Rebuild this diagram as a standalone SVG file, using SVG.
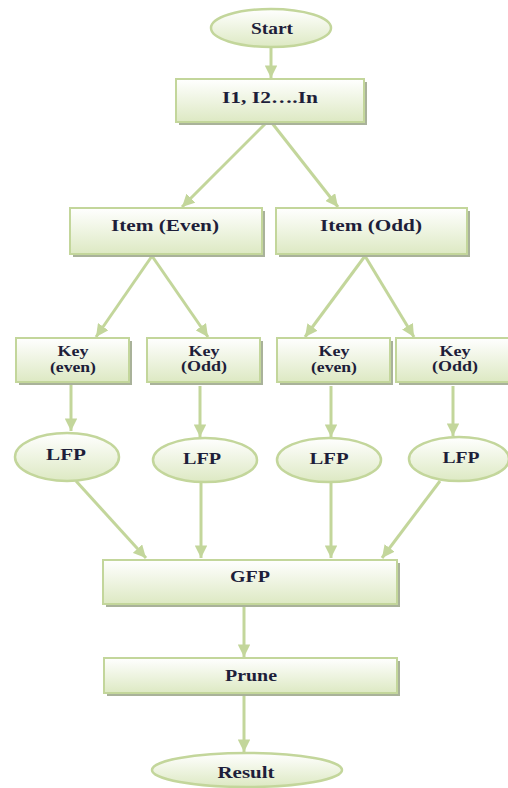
<svg xmlns="http://www.w3.org/2000/svg" width="508" height="788" viewBox="0 0 508 788">
<defs>
<linearGradient id="g" x1="0" y1="0" x2="0" y2="1">
<stop offset="0" stop-color="#ffffff"/>
<stop offset="1" stop-color="#dde9c3"/>
</linearGradient>
<marker id="ah" viewBox="0 0 10 10" refX="10" refY="5" markerWidth="4.2" markerHeight="4.2" orient="auto" markerUnits="strokeWidth">
<path d="M0,0 L10,5 L0,10 z" fill="#c3d69b"/>
</marker>
<style>
.box{fill:url(#g);stroke:#c3d69b;stroke-width:2}
.sh{fill:#a9b29a}
.el{fill:url(#g);stroke:#c3d69b;stroke-width:2.5}
.t{font-family:"Liberation Serif","Times New Roman",serif;font-weight:bold;font-size:16px;fill:#1e1e3a;text-anchor:middle;dominant-baseline:central}
.s{font-size:14px}
.c{stroke:#c3d69b;stroke-width:3;fill:none;marker-end:url(#ah)}
</style>
</defs>
<rect width="508" height="788" fill="#ffffff"/>
<g id="connectors">
<line class="c" x1="271" y1="48" x2="271" y2="78"/>
<line class="c" x1="266" y1="123" x2="182" y2="207"/>
<line class="c" x1="272" y1="123" x2="338" y2="207"/>
<line class="c" x1="152" y1="256" x2="96" y2="337"/>
<line class="c" x1="152" y1="256" x2="208" y2="337"/>
<line class="c" x1="365" y1="256" x2="305" y2="337"/>
<line class="c" x1="365" y1="256" x2="414" y2="337"/>
<line class="c" x1="71" y1="384" x2="71" y2="431"/>
<line class="c" x1="200" y1="386" x2="200" y2="437"/>
<line class="c" x1="331" y1="386" x2="331" y2="437"/>
<line class="c" x1="453" y1="386" x2="453" y2="436"/>
<line class="c" x1="76" y1="481" x2="146" y2="558"/>
<line class="c" x1="201" y1="483" x2="201" y2="558"/>
<line class="c" x1="331" y1="483" x2="331" y2="558"/>
<line class="c" x1="440" y1="481" x2="382" y2="558"/>
<line class="c" x1="244" y1="606" x2="244" y2="657"/>
<line class="c" x1="244" y1="696" x2="244" y2="752"/>
</g>
<g id="start">
<ellipse class="el" cx="271" cy="28" rx="60" ry="19"/>
<text class="t" x="272" y="28" textLength="42" lengthAdjust="spacingAndGlyphs">Start</text>
</g>
<g id="items">
<rect class="sh" x="179" y="82" width="188" height="43"/>
<rect class="box" x="176" y="79" width="188" height="43"/>
<text class="t" x="270" y="97" textLength="96" lengthAdjust="spacingAndGlyphs">I1, I2….In</text>
</g>
<g id="item-even">
<rect class="sh" x="73" y="211" width="192" height="46"/>
<rect class="box" x="70" y="208" width="192" height="46"/>
<text class="t" x="165" y="225" textLength="108" lengthAdjust="spacingAndGlyphs">Item (Even)</text>
</g>
<g id="item-odd">
<rect class="sh" x="279" y="211" width="191" height="46"/>
<rect class="box" x="276" y="208" width="191" height="46"/>
<text class="t" x="371" y="225" textLength="102" lengthAdjust="spacingAndGlyphs">Item (Odd)</text>
</g>
<g id="key-even-1">
<rect class="sh" x="19" y="341" width="113" height="44"/>
<rect class="box" x="16" y="338" width="113" height="44"/>
<text class="t s" x="73" y="351" textLength="31" lengthAdjust="spacingAndGlyphs">Key</text>
<text class="t s" x="73" y="367" textLength="46" lengthAdjust="spacingAndGlyphs">(even)</text>
</g>
<g id="key-odd-1">
<rect class="sh" x="150" y="341" width="113" height="44"/>
<rect class="box" x="147" y="338" width="113" height="44"/>
<text class="t s" x="204" y="351" textLength="31" lengthAdjust="spacingAndGlyphs">Key</text>
<text class="t s" x="204" y="366" textLength="46" lengthAdjust="spacingAndGlyphs">(Odd)</text>
</g>
<g id="key-even-2">
<rect class="sh" x="280" y="341" width="113" height="44"/>
<rect class="box" x="277" y="338" width="113" height="44"/>
<text class="t s" x="334" y="351" textLength="31" lengthAdjust="spacingAndGlyphs">Key</text>
<text class="t s" x="334" y="367" textLength="46" lengthAdjust="spacingAndGlyphs">(even)</text>
</g>
<g id="key-odd-2">
<rect class="sh" x="399" y="341" width="113" height="44"/>
<rect class="box" x="396" y="338" width="113" height="44"/>
<text class="t s" x="455" y="351" textLength="31" lengthAdjust="spacingAndGlyphs">Key</text>
<text class="t s" x="455" y="366" textLength="46" lengthAdjust="spacingAndGlyphs">(Odd)</text>
</g>
<g id="lfp-1">
<ellipse class="el" cx="67" cy="457" rx="52" ry="24"/>
<text class="t" x="66" y="454" textLength="40" lengthAdjust="spacingAndGlyphs">LFP</text>
</g>
<g id="lfp-2">
<ellipse class="el" cx="205" cy="460" rx="52" ry="22"/>
<text class="t" x="202" y="458" textLength="38" lengthAdjust="spacingAndGlyphs">LFP</text>
</g>
<g id="lfp-3">
<ellipse class="el" cx="329" cy="460" rx="52" ry="22"/>
<text class="t" x="329" y="458" textLength="39" lengthAdjust="spacingAndGlyphs">LFP</text>
</g>
<g id="lfp-4">
<ellipse class="el" cx="459" cy="459" rx="50" ry="22"/>
<text class="t" x="461" y="457" textLength="37" lengthAdjust="spacingAndGlyphs">LFP</text>
</g>
<g id="gfp">
<rect class="sh" x="106" y="563" width="294" height="44"/>
<rect class="box" x="103" y="560" width="294" height="44"/>
<text class="t" x="250" y="576" textLength="40" lengthAdjust="spacingAndGlyphs">GFP</text>
</g>
<g id="prune">
<rect class="sh" x="107" y="661" width="293" height="35"/>
<rect class="box" x="104" y="658" width="293" height="35"/>
<text class="t" x="251" y="675" textLength="52" lengthAdjust="spacingAndGlyphs">Prune</text>
</g>
<g id="result">
<ellipse class="el" cx="247" cy="770" rx="95" ry="17"/>
<text class="t" x="246" y="772" textLength="57" lengthAdjust="spacingAndGlyphs">Result</text>
</g>
</svg>
